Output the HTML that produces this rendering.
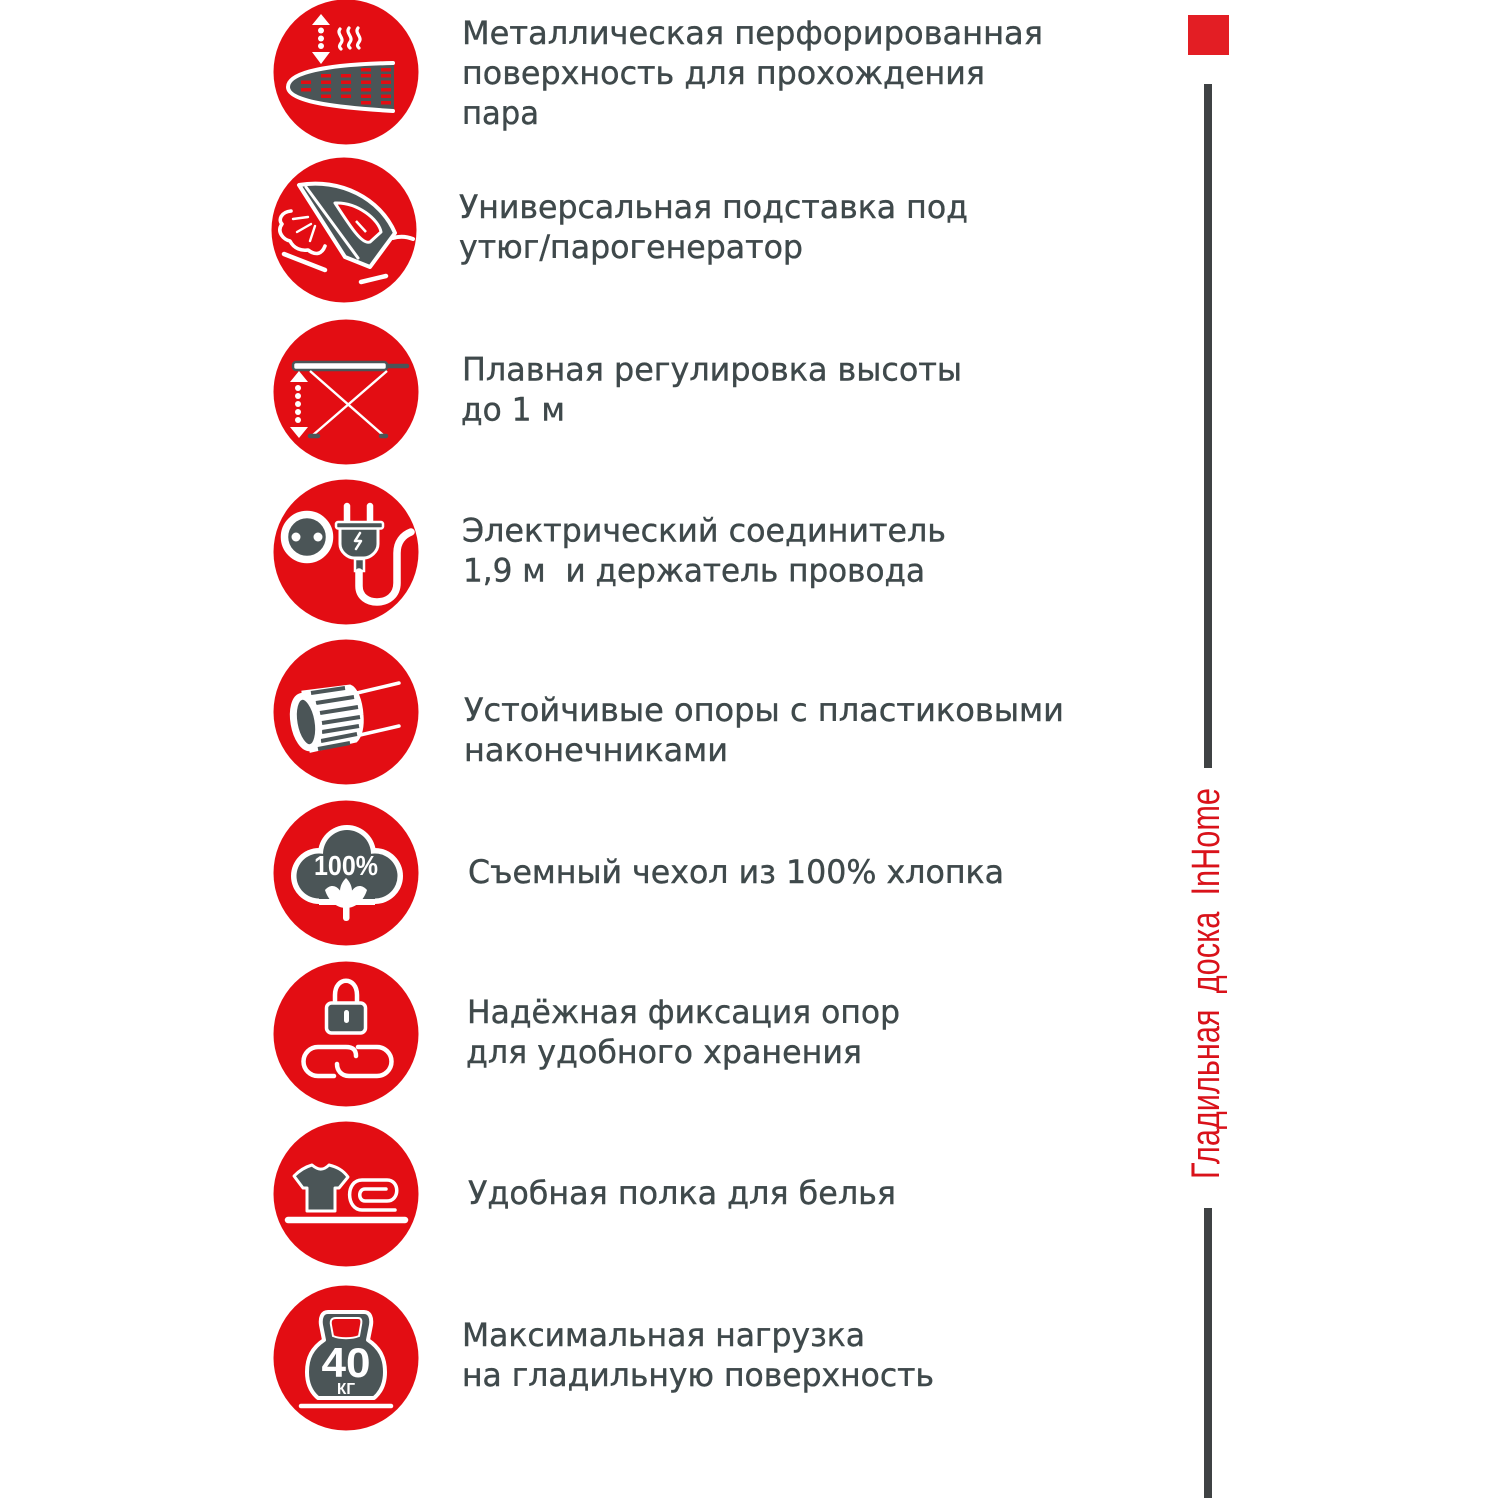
<!DOCTYPE html>
<html lang="ru"><head><meta charset="utf-8"><title>Гладильная доска InHome</title>
<style>html,body{margin:0;padding:0;background:#fff}svg{display:block}
.t{font-family:"DejaVu Sans","Liberation Sans",sans-serif;font-size:32px;fill:#3f494b;stroke:#3f494b;stroke-width:.4}
.w{stroke:#fff;fill:none;stroke-linecap:round;stroke-linejoin:round}
.g{fill:#4b5557;stroke:#fff;stroke-linejoin:round}
.b{font-family:"Liberation Sans",sans-serif;font-weight:bold;fill:#fff;text-anchor:middle}
</style></head><body>
<svg xmlns="http://www.w3.org/2000/svg" width="1500" height="1500" viewBox="0 0 1500 1500">
<rect width="1500" height="1500" fill="#fff"/>
<g fill="#e30d13">
<circle cx="346" cy="72" r="72.5"/><circle cx="344" cy="230" r="72.5"/><circle cx="346" cy="392" r="72.5"/><circle cx="346" cy="552" r="72.5"/><circle cx="346" cy="712" r="72.5"/><circle cx="346" cy="873" r="72.5"/><circle cx="346" cy="1034" r="72.5"/><circle cx="346" cy="1194" r="72.5"/><circle cx="346" cy="1358" r="72.5"/>
</g>

<!-- icon 1 -->
<g fill="#fff"><path d="M321 14L312 25H330Z"/><path d="M312 52H330L321 64Z"/><circle cx="321" cy="30.500" r="3"/><circle cx="321" cy="38.500" r="3"/><circle cx="321" cy="46" r="3"/></g>
<g class="w" stroke-width="3.200"><path d="M340 29c-4 5 5 9 1 14c-2 3-2 4 0 6"/><path d="M349 28c-4 5 5 9 1 14c-2 3-2 4 0 6"/><path d="M358 28c-4 5 5 9 1 14c-2 3-2 4 0 6"/></g>
<path d="M394 64C345 65 288 70 288 87C288 102 345 107 394 111Z" fill="#4b5557"/>
<path d="M393 63C345 64 288 69 288 87C288 103 345 108 393 111" class="w" stroke-width="4"/>
<g fill="#e30d13">
<rect x="301" y="80.500" width="10" height="3.500"/><rect x="301" y="88" width="10" height="3.500"/>
<rect x="321" y="74" width="10" height="3.500"/><rect x="321" y="80.500" width="10" height="3.500"/><rect x="321" y="88" width="10" height="3.500"/><rect x="321" y="94.500" width="10" height="3.500"/>
<rect x="341" y="74" width="10" height="3.500"/><rect x="341" y="80.500" width="10" height="3.500"/><rect x="341" y="88" width="10" height="3.500"/><rect x="341" y="94.500" width="10" height="3.500"/>
<rect x="361" y="68" width="10" height="3.500"/><rect x="361" y="74" width="10" height="3.500"/><rect x="361" y="80.500" width="10" height="3.500"/><rect x="361" y="88" width="10" height="3.500"/><rect x="361" y="94.500" width="10" height="3.500"/><rect x="361" y="101" width="10" height="3.500"/>
<rect x="381" y="68" width="10" height="3.500"/><rect x="381" y="74" width="10" height="3.500"/><rect x="381" y="80.500" width="10" height="3.500"/><rect x="381" y="88" width="10" height="3.500"/><rect x="381" y="94.500" width="10" height="3.500"/><rect x="381" y="101" width="10" height="3.500"/>
</g>

<!-- icon 2 -->
<path d="M299 185C340 178 380 198 395 233L370 267L345 257Z" class="g" stroke-width="4"/>
<path d="M306 187L358 258" class="w" stroke-width="3"/>
<path d="M335 203C358 202 379 220 381 232L370 242C362 245 350 226 335 203Z" fill="#e30d13" stroke="#fff" stroke-width="3" stroke-linejoin="round"/>
<path d="M356 221L366 232" stroke="#fff" stroke-width="2.500" fill="none"/>
<path d="M393 238Q403 235 413 239" class="w" stroke-width="4"/>
<path d="M291 211C281 212 278 220 282 224C276 232 284 240 290 241C294 249 302 251 308 250C316 256 322 254 325 246" class="w" stroke-width="3.600"/>
<path d="M293 219L308 217M297 232L311 224M310 241L315 226" class="w" stroke-width="2.400"/>
<path d="M284 254L325 270M361 282L386 276" class="w" stroke-width="4.500"/>

<!-- icon 3 -->
<path d="M385 366H407" stroke="#4b5557" stroke-width="4.500" stroke-linecap="round"/>
<rect x="293" y="362" width="94" height="8" rx="3" fill="#fff" stroke="#4b5557" stroke-width="2.500"/>
<path d="M310 371L383 435M387 371L313 435" stroke="#fff" stroke-width="2.400"/>
<path d="M310 436H318M381 436H386" stroke="#4b5557" stroke-width="4.500" stroke-linecap="round"/>
<g fill="#fff"><path d="M299 371L290 382H308Z"/><path d="M290 427H308L299 438Z"/><circle cx="298" cy="388" r="3"/><circle cx="298" cy="396" r="3"/><circle cx="298" cy="404" r="3"/><circle cx="298" cy="412" r="3"/><circle cx="298" cy="420" r="3"/></g>

<!-- icon 4 -->
<circle cx="307" cy="537" r="22.500" fill="#4b5557" stroke="#fff" stroke-width="7.500"/>
<circle cx="296" cy="537" r="4.500" fill="#fff"/><circle cx="318" cy="537" r="4.500" fill="#fff"/>
<path d="M347 506V522M370 506V522" stroke="#fff" stroke-width="6.500" stroke-linecap="round"/>
<path d="M340 526H378V544C378 552 370 558 364 558H354C348 558 340 552 340 544Z" class="g" stroke-width="3"/>
<rect x="336" y="522" width="47" height="6.500" rx="2" fill="#4b5557" stroke="#fff" stroke-width="2.500"/>
<path d="M360 533L355 541H361L356 549" class="w" stroke-width="2.500"/>
<rect x="355" y="559" width="9" height="12" fill="#4b5557" stroke="#fff" stroke-width="2.500"/>
<path d="M359 572V586C359 597 368 602 377 602C388 602 397 595 397 583V553C397 542 403 535 411 532" class="w" stroke-width="7.500"/>

<!-- icon 5 -->
<path d="M303 692L350 686C356 688 361 700 362 715C363 726 361 736 356 741L311 751Z" fill="#fff" stroke="#fff" stroke-width="3"/>
<g stroke="#4b5557" stroke-width="4"><path d="M311 693L345 688M316 703L354 697M320 713L358 707M322 723L360 717M322 732L359 726M321 741L357 734M318 749L350 743"/></g>
<ellipse cx="306" cy="722" rx="12" ry="26" transform="rotate(-10 306 722)" fill="#4b5557" stroke="#fff" stroke-width="7"/>
<path d="M357 693L399 683M360 735L399 726" stroke="#fff" stroke-width="3.500" stroke-linecap="round"/>

<!-- icon 6 -->
<g fill="#fff"><circle cx="347" cy="854" r="29"/><circle cx="319" cy="876" r="28"/><circle cx="375" cy="876" r="28"/><rect x="319" y="860" width="56" height="45"/></g>
<g fill="#4b5557"><circle cx="347" cy="854" r="24"/><circle cx="319" cy="876" r="22.500"/><circle cx="375" cy="876" r="22.500"/><rect x="319" y="855" width="56" height="44"/></g>
<text x="346" y="875" class="b" font-size="28" textLength="64" lengthAdjust="spacingAndGlyphs">100%</text>
<g fill="#fff"><path d="M346 878C338 886 338 896 346 906C354 896 354 886 346 878Z"/><path d="M325 890C334 880 344 890 346 908C336 908 328 900 325 890Z"/><path d="M367 890C358 880 348 890 346 908C356 908 364 900 367 890Z"/><rect x="343" y="900" width="6.500" height="21" rx="3"/></g>

<!-- icon 7 -->
<path d="M335 1005V995C335 976 357 976 357 995V1005" class="w" stroke-width="4.500"/>
<rect x="326.500" y="1003" width="39" height="30" rx="5" class="g" stroke-width="3.500"/>
<rect x="344" y="1010" width="5" height="13" rx="2.500" fill="#fff"/>
<path d="M334 1076H318A14.500 14.500 0 0 1 318 1047H346C353 1047 356 1050 356 1056" class="w" stroke-width="4.500"/>
<path d="M358 1047H377A14.500 14.500 0 0 1 377 1076H349C341 1076 337 1070 337 1064" class="w" stroke-width="4.500"/>

<!-- icon 8 -->
<path d="M312 1165C318 1170 323 1171 329 1165C337 1167 343 1170 348 1177L339 1188H335V1211H307V1188H303L294 1176C299 1171 305 1167 312 1165Z" class="g" stroke-width="3"/>
<path d="M288 1220H405" class="w" stroke-width="6.500"/>
<path d="M395 1210H362C346 1210 345 1180 362 1180H387C400 1180 400 1201 387 1201H365C358 1201 358 1189 365 1189H386" class="w" stroke-width="3.500"/>

<!-- icon 9 -->
<path d="M328 1312H364C370 1312 372 1318 371 1325L368 1340C380 1348 385 1358 385 1372C385 1385 380 1393 374 1398H318C312 1393 307 1385 307 1372C307 1358 312 1348 324 1340L321 1325C320 1318 322 1312 328 1312Z" class="g" stroke-width="4"/>
<path d="M336 1318H358C361 1318 362 1320 361 1325L359 1336C352 1339 340 1339 333 1336L331 1325C330 1320 332 1318 336 1318Z" fill="#e30d13" stroke="#fff" stroke-width="2"/>
<text x="346" y="1377" class="b" font-size="42" textLength="49" lengthAdjust="spacingAndGlyphs">40</text>
<text x="346" y="1394" class="b" font-size="16" textLength="18" lengthAdjust="spacingAndGlyphs">КГ</text>
<path d="M301 1406H391" class="w" stroke-width="4.500"/>

<!-- text -->
<g class="t">
<text x="462" y="44" textLength="581" lengthAdjust="spacingAndGlyphs">Металлическая перфорированная</text>
<text x="462" y="84" textLength="523" lengthAdjust="spacingAndGlyphs">поверхность для прохождения</text>
<text x="462" y="124" textLength="77" lengthAdjust="spacingAndGlyphs">пара</text>
<text x="459" y="218" textLength="509" lengthAdjust="spacingAndGlyphs">Универсальная подставка под</text>
<text x="459" y="258" textLength="344" lengthAdjust="spacingAndGlyphs">утюг/парогенератор</text>
<text x="462" y="380.500" textLength="500" lengthAdjust="spacingAndGlyphs">Плавная регулировка высоты</text>
<text x="461" y="420.500" textLength="104" lengthAdjust="spacingAndGlyphs">до 1 м</text>
<text x="462" y="541.500" textLength="484" lengthAdjust="spacingAndGlyphs">Электрический соединитель</text>
<text x="463" y="581.500" textLength="462" lengthAdjust="spacingAndGlyphs">1,9 м&#160; и держатель провода</text>
<text x="464" y="721" textLength="600" lengthAdjust="spacingAndGlyphs">Устойчивые опоры с пластиковыми</text>
<text x="464" y="761" textLength="264" lengthAdjust="spacingAndGlyphs">наконечниками</text>
<text x="468" y="883" textLength="536" lengthAdjust="spacingAndGlyphs">Съемный чехол из 100% хлопка</text>
<text x="467" y="1023" textLength="433" lengthAdjust="spacingAndGlyphs">Надёжная фиксация опор</text>
<text x="466" y="1063" textLength="396" lengthAdjust="spacingAndGlyphs">для удобного хранения</text>
<text x="468" y="1204" textLength="428" lengthAdjust="spacingAndGlyphs">Удобная полка для белья</text>
<text x="462" y="1346" textLength="403" lengthAdjust="spacingAndGlyphs">Максимальная нагрузка</text>
<text x="462" y="1386" textLength="472" lengthAdjust="spacingAndGlyphs">на гладильную поверхность</text>
</g>

<!-- right column -->
<rect x="1188" y="15" width="41" height="40" fill="#e31e24"/>
<rect x="1204" y="84" width="8" height="684" fill="#3f4244"/>
<rect x="1204" y="1208" width="8" height="290" fill="#3f4244"/>
<text transform="translate(1219 1179) rotate(-90)" font-family="'Liberation Sans',sans-serif" font-size="40" fill="#d9121a" word-spacing="10" textLength="391" lengthAdjust="spacingAndGlyphs">Гладильная доска InHome</text>
</svg>
</body></html>
